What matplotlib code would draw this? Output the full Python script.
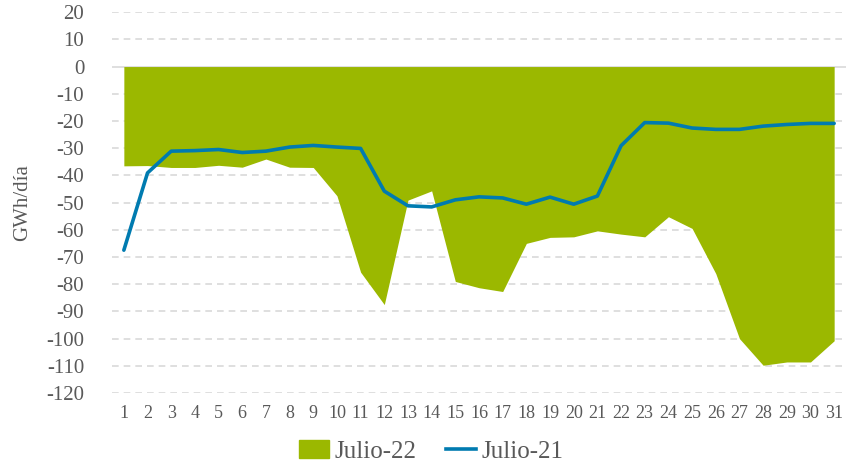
import matplotlib.pyplot as plt
from matplotlib.patches import Patch
from matplotlib.lines import Line2D

# datos (GWh/día)
days = list(range(1, 32))
julio_22 = [-36.5, -36.4, -37.1, -37.1, -36.3, -37.0, -34.0, -37.0, -37.1, -47.5,
            -75.6, -87.5, -49.1, -45.7, -79.0, -81.3, -82.7, -65.0, -62.8, -62.6,
            -60.4, -61.6, -62.6, -55.2, -59.5, -76.1, -100.0, -109.8, -108.6, -108.6,
            -100.8]
julio_21 = [-67.5, -39.1, -31.1, -30.9, -30.5, -31.6, -31.1, -29.6, -29.0, -29.6,
            -30.1, -45.8, -51.2, -51.6, -49.0, -47.9, -48.3, -50.6, -48.0, -50.6,
            -47.6, -29.1, -20.6, -20.8, -22.6, -23.1, -23.1, -21.9, -21.3, -20.9,
            -20.9]
y_ticks = list(range(20, -121, -10))

GREEN = '#9BB800'
BLUE = '#007BB0'
TEXT = '#595959'

plt.rcParams['font.family'] = ['Liberation Serif', 'DejaVu Serif']

fig = plt.figure(figsize=(8.46, 4.67), dpi=100)
ax = fig.add_axes([0.1324, 0.1585, 0.8676, 0.8155])

# grid
for t in y_ticks:
    if t == 0:
        ax.axhline(t, color='#D9D9D9', lw=1.2, zorder=0)
    else:
        ax.axhline(t, color='#D9D9D9', lw=1.2, ls=(0, (4, 3)), zorder=0)

ax.fill_between(days, 0, julio_22, color=GREEN, lw=0, zorder=2)
ax.plot(days, julio_21, color=BLUE, lw=2.6, solid_capstyle='round', zorder=3)

ax.set_xlim(0.5, 31.5)
ax.set_ylim(-120, 20)
ax.set_yticks(y_ticks)
ax.set_yticklabels([str(t) for t in y_ticks])
ax.set_xticks(days)
ax.set_xticklabels([str(d) for d in days])
ax.tick_params(axis='both', length=0, colors=TEXT, labelsize=15)
ax.tick_params(axis='x', pad=9, labelsize=13)
ax.tick_params(axis='y', pad=20)
for s in ax.spines.values():
    s.set_visible(False)

ax.set_ylabel('GWh/día', color=TEXT, fontsize=15, labelpad=10)

handles = [Patch(color=GREEN, label='Julio-22'),
           Line2D([0], [0], color=BLUE, lw=2.6, label='Julio-21')]
fig.legend(handles=handles, loc='center', bbox_to_anchor=(0.51, 0.033),
           ncol=2, frameon=False, fontsize=18, labelcolor=TEXT,
           handlelength=1.2, handletextpad=0.2, columnspacing=1.2)

fig.savefig('out.png', dpi=100)
